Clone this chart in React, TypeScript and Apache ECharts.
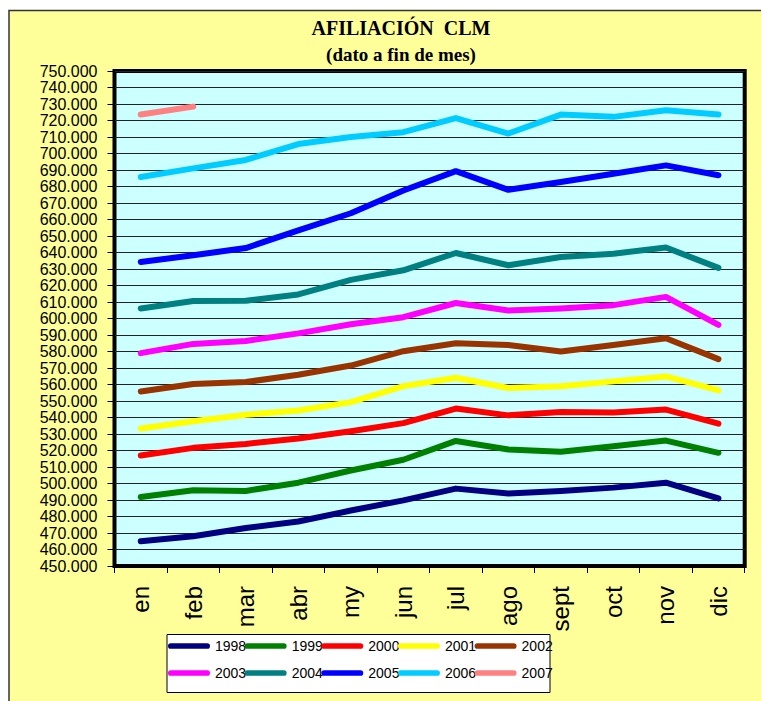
import React, { useEffect, useRef } from "react";
import * as echarts from "echarts";

const months = ["en", "feb", "mar", "abr", "my", "jun", "jul", "ago", "sept", "oct", "nov", "dic"];
const years = ["1998", "1999", "2000", "2001", "2002", "2003", "2004", "2005", "2006", "2007"];
const colors = ["#000080", "#008000", "#FF0000", "#FFFF00", "#993300", "#FF00FF", "#008080", "#0000FF", "#00CCFF", "#FF8080"];

const v1998 = [465000, 468000, 473000, 477000, 483600, 489800, 496900, 494000, 495500, 497500, 500500, 491000];
const v1999 = [491800, 495900, 495500, 500500, 507900, 514400, 525800, 520600, 519200, 522600, 526000, 518600];
const v2000 = [517000, 521600, 524000, 527300, 531700, 536600, 545400, 541300, 543400, 543000, 544800, 536300];
const v2001 = [533300, 537700, 541700, 544200, 549300, 559000, 564100, 557900, 558900, 561900, 564900, 556400];
const v2002 = [555800, 560300, 561500, 565900, 571500, 580200, 585000, 584000, 580000, 584000, 588000, 575400];
const v2003 = [579000, 584600, 586400, 591000, 596500, 600800, 609400, 604800, 606100, 608100, 613100, 596100];
const v2004 = [606100, 610600, 610700, 614600, 623400, 629200, 639700, 632300, 637300, 639300, 643000, 630700];
const v2005 = [634300, 638300, 642700, 653400, 663800, 677600, 689300, 678000, 682700, 687700, 692800, 686800];
const v2006 = [685800, 691000, 696100, 705700, 710000, 712900, 721500, 712100, 723600, 722200, 726200, 723600];
const v2007 = [723600, 728400];

const seriesValues = [v1998, v1999, v2000, v2001, v2002, v2003, v2004, v2005, v2006, v2007];

const yMin = 450000;
const yMax = 750000;
const yStep = 10000;

const legendIcon = "path://M3,0 L41,0 A3,3 0 0 1 41,6 L3,6 A3,3 0 0 1 3,0 Z";

export default function App() {
  const ref = useRef<HTMLDivElement>(null);

  useEffect(() => {
    if (!ref.current) return;
    const chart = echarts.init(ref.current, null, { renderer: "svg" });
    const legendBase = {
      orient: "horizontal",
      padding: 0,
      itemWidth: 42,
      itemHeight: 7,
      itemGap: -1.5,
      icon: legendIcon,
      textStyle: { fontFamily: "Liberation Sans, Arial, sans-serif", fontSize: 14, color: "#000", lineHeight: 16 },
    };
    chart.setOption({
      animation: false,
      backgroundColor: "#ffffff",
      graphic: [
        {
          type: "rect",
          z: -100,
          silent: true,
          shape: { x: 9, y: 10.5, width: 800, height: 800 },
          style: { fill: "#FFFF99", stroke: "#333333", lineWidth: 1.5 },
        },
        {
          type: "rect",
          z: -50,
          silent: true,
          shape: { x: 167, y: 634.5, width: 383, height: 58 },
          style: { fill: "#FFFFFF", stroke: "#000000", lineWidth: 1 },
        },
      ],
      title: [
        {
          text: "AFILIACIÓN  CLM",
          left: 401,
          top: 18,
          textAlign: "center",
          padding: 0,
          textStyle: { fontFamily: "Liberation Serif, Times New Roman, serif", fontWeight: "bold", fontSize: 20, color: "#000" },
        },
        {
          text: "(dato a fin de mes)",
          left: 401,
          top: 45,
          textAlign: "center",
          padding: 0,
          textStyle: { fontFamily: "Liberation Serif, Times New Roman, serif", fontWeight: "bold", fontSize: 19, color: "#000" },
        },
      ],
      legend: [
        { ...legendBase, left: 168, top: 638, data: years.slice(0, 5) },
        { ...legendBase, left: 168, top: 665, data: years.slice(5) },
      ],
      grid: {
        left: 114.5,
        top: 71,
        right: 16.3,
        bottom: 135,
        show: true,
        backgroundColor: "#CCFFFF",
        borderColor: "#000000",
        borderWidth: 4,
        containLabel: false,
      },
      xAxis: {
        type: "category",
        data: months,
        boundaryGap: true,
        axisLine: { show: true, lineStyle: { color: "#000", width: 1 } },
        axisTick: { show: true, length: 7, lineStyle: { color: "#000" } },
        axisLabel: {
          rotate: 90,
          margin: 20,
          fontSize: 24,
          fontFamily: "Liberation Sans, Arial, sans-serif",
          color: "#000",
          interval: 0,
        },
        splitLine: { show: false },
      },
      yAxis: {
        type: "value",
        min: yMin,
        max: yMax,
        interval: yStep,
        axisLine: { show: true, lineStyle: { color: "#000", width: 1 } },
        axisTick: { show: true, length: 7, lineStyle: { color: "#000" } },
        axisLabel: {
          margin: 17,
          fontSize: 16,
          lineHeight: 16,
          showMinLabel: true,
          showMaxLabel: true,
          hideOverlap: false,
          fontFamily: "Liberation Sans, Arial, sans-serif",
          color: "#000",
          formatter: (v: number) => `${Math.round(v / 1000)}.000`,
        },
        splitLine: { show: true, lineStyle: { color: "#222", width: 1 } },
      },
      series: years.map((y, i) => ({
        name: y,
        type: "line",
        data: seriesValues[i],
        showSymbol: false,
        symbol: "none",
        color: colors[i],
        lineStyle: { color: colors[i], width: 6, cap: "round", join: "round" },
        emphasis: { disabled: true },
      })),
    });
    return () => chart.dispose();
  }, []);

  return (
    <div
      ref={ref}
      style={{ position: "fixed", left: 0, top: 0, width: 761, height: 701 }}
    />
  );
}
